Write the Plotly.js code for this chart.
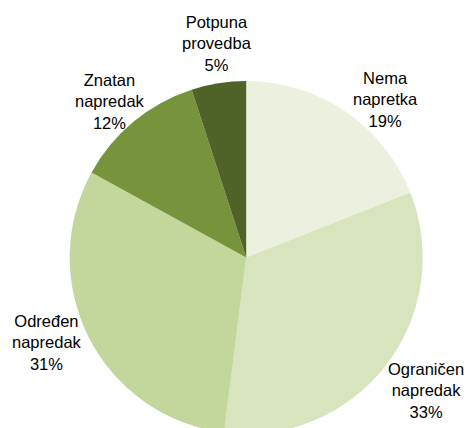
<!DOCTYPE html>
<html>
<head>
<meta charset="utf-8">
<script src="https://cdn.plot.ly/plotly-3.0.1.min.js"></script>
<style>
html,body{margin:0;padding:0;overflow:hidden;background:#fff;}
#chart{width:467px;height:440px;}
</style>
</head>
<body>
<div id="chart"></div>
<script>
const categories = ["Nema<br>napretka", "Ograničen<br>napredak", "Određen<br>napredak", "Znatan<br>napredak", "Potpuna<br>provedba"];
const values = [19, 33, 31, 12, 5];
const colors = ["#EBF1DE", "#D7E4BD", "#C3D69B", "#77933C", "#4F6228"];

// layout of the figure (pixels)
const W = 467, H = 440;
const dom = {x: [0.1493, 0.9051], y: [0.0136, 0.8159]};
const cx = W * (dom.x[0] + dom.x[1]) / 2;
const cy = H * (1 - (dom.y[0] + dom.y[1]) / 2);
const R = Math.min((dom.x[1] - dom.x[0]) * W, (dom.y[1] - dom.y[0]) * H) / 2;
const labelRadius = 1.22;                 // label distance relative to pie radius
const labelNudge = [[18, 20], [10, 1], [-7, -13], [1, 10], [4, -1]]; // px fine offsets
const font = {family: "Liberation Sans, Arial, sans-serif", size: 16.5, color: "#000"};

const total = values.reduce((a, b) => a + b, 0);
let cum = 0;
const annotations = values.map((v, i) => {
  const theta = (cum + v / 2) / total * 2 * Math.PI;
  cum += v;
  const px = cx + R * labelRadius * Math.sin(theta) + labelNudge[i][0];
  const py = cy - R * labelRadius * Math.cos(theta) + labelNudge[i][1];
  return {
    xref: "paper", yref: "paper",
    x: px / W, y: 1 - py / H,
    xanchor: "center", yanchor: "middle", align: "center",
    text: categories[i] + "<br>" + Math.round(v / total * 100) + "%",
    showarrow: false, font: font
  };
});

const trace = {
  type: "pie",
  labels: categories,
  values: values,
  sort: false,
  direction: "clockwise",
  rotation: 0,
  marker: {colors: colors, line: {width: 0}},
  textinfo: "none",
  hoverinfo: "none",
  showlegend: false,
  automargin: false,
  domain: dom
};

Plotly.newPlot("chart", [trace], {
  width: W,
  height: H,
  margin: {l: 0, r: 0, t: 0, b: 0},
  paper_bgcolor: "#fff",
  plot_bgcolor: "#fff",
  showlegend: false,
  annotations: annotations
}, {displayModeBar: false, staticPlot: true});
</script>
</body>
</html>
